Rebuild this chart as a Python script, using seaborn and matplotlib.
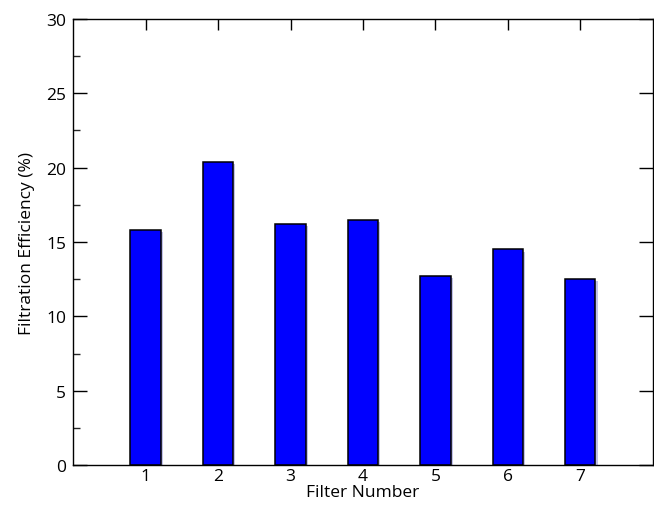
import matplotlib
matplotlib.use("Agg")
import matplotlib.pyplot as plt
import matplotlib.patheffects as pe
from matplotlib.ticker import MultipleLocator
import seaborn as sns
import pandas as pd

sns.set_theme(style="white")
plt.rcParams['font.family'] = ['Open Sans', 'DejaVu Sans']

filters = ["1", "2", "3", "4", "5", "6", "7"]
efficiency = [15.8, 20.4, 16.2, 16.5, 12.7, 14.5, 12.5]

df = pd.DataFrame({"filter": filters, "eff": efficiency})

fig = plt.figure(figsize=(6.54, 5.10), dpi=100)
ax = fig.add_axes([0.112, 0.086, 0.886, 0.875])

sns.barplot(data=df, x="filter", y="eff", color="#0000ff", saturation=1,
            width=0.42, edgecolor="black", linewidth=1.1, ax=ax)
for bar in ax.patches:
    bar.set_path_effects([pe.SimplePatchShadow(offset=(1.5, -1.5), shadow_rgbFace="#9999dd", alpha=0.6),
                          pe.Normal()])

ax.set_xlim(-1, 7)
ax.set_ylim(0, 30)
ax.yaxis.set_major_locator(MultipleLocator(5))
ax.yaxis.set_minor_locator(MultipleLocator(2.5))

for s in ax.spines.values():
    s.set_color("black")
    s.set_linewidth(1.0)

ax.tick_params(axis="both", which="major", direction="in", labelsize=12.5, color="black",
               labelcolor="black")
ax.tick_params(axis="x", which="major", length=8, width=1, top=True, bottom=True, pad=2)
ax.tick_params(axis="y", which="major", length=10, width=1, left=True, right=True, pad=5)
ax.tick_params(axis="y", which="minor", direction="in", length=5, width=1, left=True, right=False)

ax.set_xlabel("Filter Number", fontsize=12.5, labelpad=0, color="black")
ax.set_ylabel("Filtration Efficiency (%)", fontsize=12.5, labelpad=8, color="black")
ax.grid(False)

fig.savefig("out.png", dpi=100)
